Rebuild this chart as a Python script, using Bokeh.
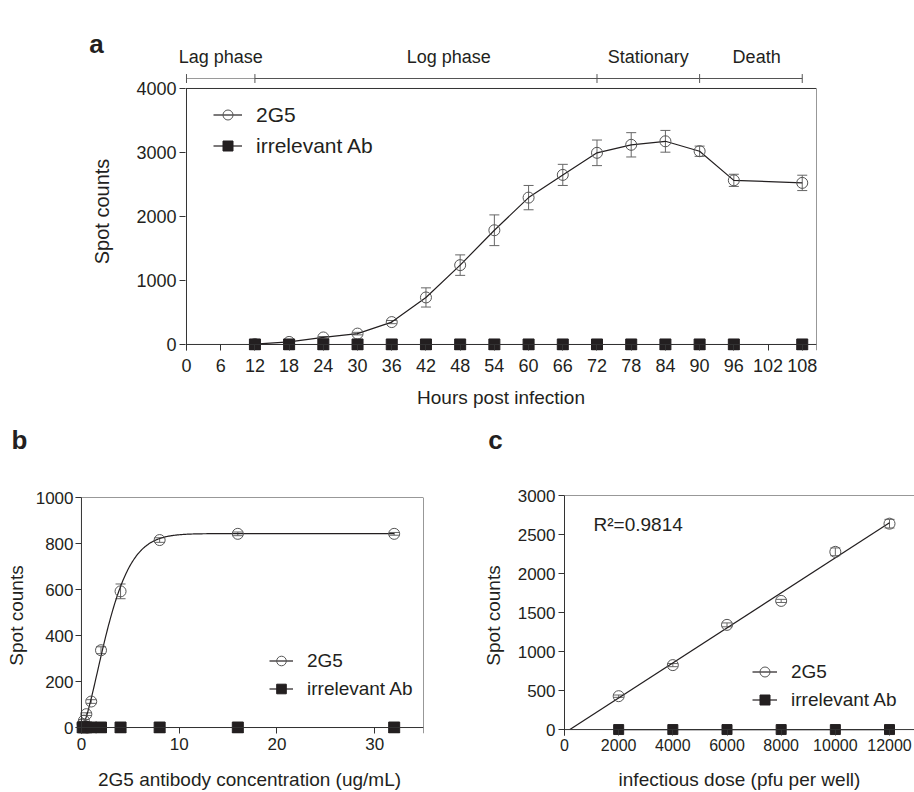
import numpy as np
from bokeh.plotting import figure
from bokeh.layouts import column, row
from bokeh.models import (Range1d, FixedTicker, Span, Whisker, TeeHead, Label,
                          Legend, LegendItem, ColumnDataSource)
from bokeh.embed import file_html
from bokeh.resources import INLINE

FONT = "Liberation Sans"
TXT = "#231f20"
AX = "#333333"
MARK = "#555555"

# ---------------- data: panel a ----------------
hours = [12, 18, 24, 30, 36, 42, 48, 54, 60, 66, 72, 78, 84, 90, 96, 108]
a_2g5 = [5, 40, 110, 170, 350, 735, 1240, 1785, 2295, 2650, 2995, 3120, 3175, 3020, 2565, 2525]
a_2g5_err = [0, 10, 15, 20, 25, 150, 160, 240, 190, 165, 200, 190, 170, 80, 95, 120]
a_irr = [0, 0, 0, 0, 0, 0, 0, 0, 0, 0, 0, 0, 0, 0, 0, 0]
a_xticks = [0, 6, 12, 18, 24, 30, 36, 42, 48, 54, 60, 66, 72, 78, 84, 90, 96, 102, 108]
a_yticks = [0, 1000, 2000, 3000, 4000]
phase_names = ["Lag phase", "Log phase", "Stationary", "Death"]
phase_start = [0, 12, 72, 90]
phase_end = [12, 72, 90, 108]
phase_label_x = [6, 46, 81, 100]

# ---------------- data: panel b ----------------
conc = [0.125, 0.25, 0.5, 1, 2, 4, 8, 16, 32]
b_2g5 = [15, 30, 58, 113, 336, 592, 815, 842, 842]
b_2g5_err = [3, 4, 6, 8, 15, 32, 10, 8, 6]
b_irr = [0, 0, 0, 0, 0, 0, 0, 0, 0]
b_xticks = [0, 10, 20, 30]
b_yticks = [0, 200, 400, 600, 800, 1000]
fit_top, fit_scale, fit_shape = 843, 3.36, 1.5   # fitted saturation curve

# ---------------- data: panel c ----------------
dose = [2000, 4000, 6000, 8000, 10000, 12000]
c_2g5 = [428, 826, 1342, 1649, 2278, 2639]
c_2g5_err = [15, 20, 25, 20, 50, 55]
c_irr = [0, 0, 0, 0, 0, 0]
c_xticks = [0, 2000, 4000, 6000, 8000, 10000, 12000]
c_yticks = [0, 500, 1000, 1500, 2000, 2500, 3000]
r2_text = "R\u00b2=0.9814"

# ---------------- geometry ----------------
A_XMIN, A_XMAX = -0.175, 110.5
A_YMIN, A_YTOP, A_YFRAME = -94, 4000, 4250
PHASE_BAR_Y = 4156
PHASE_TICK = 70
A_FRAME_LEFT = 185
A_PX_PER_H = (816 - A_FRAME_LEFT) / (A_XMAX - A_XMIN)
A_ZERO_PX = A_FRAME_LEFT - A_XMIN * A_PX_PER_H


def base_fig(width, height, xr, yr, bl, br, bt, bb):
    p = figure(width=width, height=height, x_range=Range1d(*xr), y_range=Range1d(*yr),
               output_backend="svg", toolbar_location=None,
               min_border_left=bl, min_border_right=br, min_border_top=bt, min_border_bottom=bb)
    p.outline_line_color = None
    p.xgrid.grid_line_color = None
    p.ygrid.grid_line_color = None
    p.background_fill_color = "white"
    p.border_fill_color = "white"
    return p


def header_fig(width, height, xr, yr):
    p = figure(width=width, height=height, x_range=Range1d(*xr), y_range=Range1d(*yr),
               output_backend="svg", toolbar_location=None,
               x_axis_location=None, y_axis_location=None,
               min_border_left=0, min_border_right=0, min_border_top=0, min_border_bottom=0)
    p.outline_line_color = None
    p.xgrid.grid_line_color = None
    p.ygrid.grid_line_color = None
    p.background_fill_color = "white"
    p.border_fill_color = "white"
    return p


def style_axis(ax, ticks, tick_size, label, label_size, tin, tout, standoff, lstandoff, line=True):
    ax.ticker = FixedTicker(ticks=ticks)
    ax.major_tick_in = tin
    ax.major_tick_out = tout
    ax.minor_tick_line_color = None
    ax.major_tick_line_color = AX
    ax.major_tick_line_width = 1
    ax.axis_line_color = AX if line else None
    ax.axis_line_width = 1
    ax.major_label_text_font = FONT
    ax.major_label_text_font_size = tick_size
    ax.major_label_text_color = TXT
    ax.major_label_standoff = standoff
    ax.axis_label = label
    ax.axis_label_text_font = FONT
    ax.axis_label_text_font_size = label_size
    ax.axis_label_text_font_style = "normal"
    ax.axis_label_text_color = TXT
    ax.axis_label_standoff = lstandoff


def add_errors(p, x, y, err):
    src = ColumnDataSource(dict(x=x, lo=[v - e for v, e in zip(y, err)],
                                hi=[v + e for v, e in zip(y, err)]))
    w = Whisker(source=src, base="x", lower="lo", upper="hi", line_color="#666666",
                line_width=1,
                upper_head=TeeHead(size=10, line_color="#666666", line_width=1),
                lower_head=TeeHead(size=10, line_color="#666666", line_width=1))
    p.add_layout(w)


def make_legend(p, items, loc, gw, gh, spacing, size):
    leg = Legend(items=items, location=loc, glyph_width=gw, glyph_height=gh,
                 label_height=gh, spacing=spacing, label_standoff=14, padding=0, margin=0,
                 border_line_color=None, background_fill_alpha=0,
                 label_text_font=FONT, label_text_font_size=size, label_text_color=TXT)
    p.add_layout(leg)


def letter(p, x, y, text):
    p.add_layout(Label(x=x, y=y, text=text, text_align="center", text_baseline="middle",
                       text_font=FONT, text_font_size="26px", text_font_style="bold",
                       text_color=TXT))


# ================= header above panel a (letter + phase names) =================
HA = 70
ha = header_fig(914, HA, (-A_ZERO_PX / A_PX_PER_H, (914 - A_ZERO_PX) / A_PX_PER_H), (0, HA))
for i in range(len(phase_names)):
    ha.add_layout(Label(x=phase_label_x[i], y=HA - 56, text=phase_names[i], text_align="center",
                        text_baseline="middle", text_font=FONT, text_font_size="18px",
                        text_color=TXT))
letter(ha, -15.8, HA - 43, "a")

# ================= panel a =================
pa = base_fig(914, 344, (A_XMIN, A_XMAX), (A_YMIN, A_YFRAME), A_FRAME_LEFT, 98, 2, 64)
style_axis(pa.xaxis[0], a_xticks, "18px", "Hours post infection", "19px", 6, 0, 8, 12, line=False)
style_axis(pa.yaxis[0], a_yticks, "18px", "Spot counts", "20px", 0, 6, 3, 20, line=False)
pa.add_layout(Span(location=0, dimension="width", line_color=AX, line_width=1))
pa.segment(x0=[A_XMIN, 0, A_XMAX], y0=[A_YTOP, A_YMIN, A_YMIN],
           x1=[A_XMAX, 0, A_XMAX], y1=[A_YTOP, A_YTOP, A_YTOP], line_color=AX, line_width=1)

# phase bar (inside the extended frame, above the 4000 line)
for i in range(len(phase_names)):
    pa.segment(x0=[phase_start[i]], y0=[PHASE_BAR_Y], x1=[phase_end[i]], y1=[PHASE_BAR_Y],
               line_color="#9a9a9a" if i == 0 else "#555555", line_width=1.2)
bounds = phase_start + [phase_end[-1]]
pa.segment(x0=bounds, y0=[PHASE_BAR_Y - PHASE_TICK] * len(bounds),
           x1=bounds, y1=[PHASE_BAR_Y + PHASE_TICK] * len(bounds),
           line_color="#555555", line_width=1)

la1 = pa.line(hours, a_2g5, line_color=TXT, line_width=1.2)
add_errors(pa, hours, a_2g5, a_2g5_err)
ca1 = pa.scatter(hours, a_2g5, marker="circle", size=11, fill_color=None,
                 line_color=MARK, line_width=1)
la2 = pa.line(hours, a_irr, line_color=TXT, line_width=1.2)
sa2 = pa.scatter(hours, a_irr, marker="square", size=11, fill_color=TXT, line_color=TXT)
make_legend(pa, [LegendItem(label="2G5", renderers=[la1, ca1]),
                 LegendItem(label="irrelevant Ab", renderers=[la2, sa2])],
            (28, 192), 29, 25, 6, "21px")

# ================= header above panels b and c =================
HB = 46
hb = header_fig(914, HB, (0, 914), (0, HB))
letter(hb, 19, HB - 25, "b")
letter(hb, 495, HB - 25, "c")

# ================= panel b =================
pb = base_fig(460, 332, (-0.61, 35), (-26, 1000), 75, 37, 37, 58)
style_axis(pb.xaxis[0], b_xticks, "17px", "2G5 antibody concentration (ug/mL)", "19px",
           6, 0, 4, 16, line=False)
style_axis(pb.yaxis[0], b_yticks, "17px", "Spot counts", "19px", 6, 0, 2, 6, line=False)
pb.add_layout(Span(location=0, dimension="width", line_color=AX, line_width=1))
pb.add_layout(Span(location=0, dimension="height", line_color=AX, line_width=1))
pb.add_layout(Span(location=1000, dimension="width", line_color=AX, line_width=1))
pb.add_layout(Span(location=35, dimension="height", line_color=AX, line_width=1))

xfit = np.linspace(0, 32, 400)
yfit = fit_top * (1 - np.exp(-(xfit / fit_scale) ** fit_shape))
lb1 = pb.line(xfit, yfit, line_color=TXT, line_width=1.2)
add_errors(pb, conc, b_2g5, b_2g5_err)
cb1 = pb.scatter(conc, b_2g5, marker="circle", size=11, fill_color=None,
                 line_color=MARK, line_width=1)
lb2 = pb.line(conc, b_irr, line_color=TXT, line_width=1.2)
sb2 = pb.scatter(conc, b_irr, marker="square", size=11, fill_color=TXT, line_color=TXT)
make_legend(pb, [LegendItem(label="2G5", renderers=[lb1, cb1]),
                 LegendItem(label="irrelevant Ab", renderers=[lb2, sb2])],
            (194, 32), 24, 25, 3, "19px")

# ================= panel c =================
pc = base_fig(454, 332, (0, 12923), (-76, 3000), 104, 0, 35, 54)
style_axis(pc.xaxis[0], c_xticks, "16px", "infectious dose (pfu per well)", "19px",
           6, 0, 3, 15, line=False)
style_axis(pc.yaxis[0], c_yticks, "17px", "Spot counts", "19px", 0, 6, 3, 11)
pc.add_layout(Span(location=0, dimension="width", line_color=AX, line_width=1))
pc.add_layout(Span(location=3000, dimension="width", line_color=AX, line_width=1))

slope, intercept = np.polyfit(dose, c_2g5, 1)
x0 = -intercept / slope
lc1 = pc.line([x0, dose[-1]], [slope * x0 + intercept, slope * dose[-1] + intercept],
              line_color=TXT, line_width=1.2)
add_errors(pc, dose, c_2g5, c_2g5_err)
cc1 = pc.scatter(dose, c_2g5, marker="circle", size=11, fill_color=None,
                 line_color=MARK, line_width=1)
lc2 = pc.line(dose, c_irr, line_color=TXT, line_width=1.2)
sc2 = pc.scatter(dose, c_irr, marker="square", size=10, fill_color=TXT, line_color=TXT)
make_legend(pc, [LegendItem(label="2G5", renderers=[lc1, cc1]),
                 LegendItem(label="irrelevant Ab", renderers=[lc2, sc2])],
            (188, 23), 25, 25, 3, "19px")
pc.add_layout(Label(x=1072, y=2622, text=r2_text, text_align="left", text_baseline="middle",
                    text_font=FONT, text_font_size="19px", text_color=TXT))

layout = column(row(ha), pa, row(hb), row(column(pb), column(pc)))
open("out.html", "w").write(file_html(layout, INLINE))
